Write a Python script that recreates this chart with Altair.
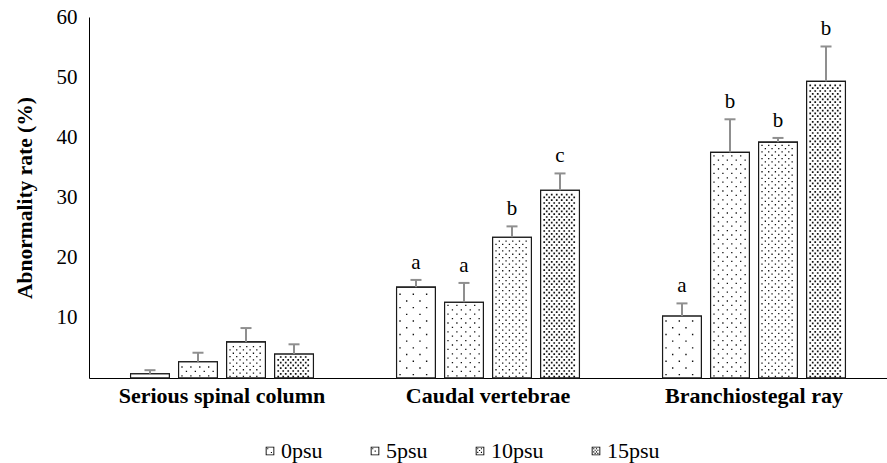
import altair as alt
import pandas as pd

# ---- data -------------------------------------------------------------
groups = ["Serious spinal column", "Caudal vertebrae", "Branchiostegal ray"]
salinity = ["0psu", "5psu", "10psu", "15psu"]

rate_serious = [0.7, 2.7, 6.0, 4.0]
rate_caudal = [15.1, 12.6, 23.4, 31.2]
rate_branch = [10.3, 37.5, 39.2, 49.3]

sd_serious = [0.6, 1.5, 2.3, 1.6]
sd_caudal = [1.2, 3.2, 1.8, 2.8]
sd_branch = [2.1, 5.5, 0.7, 5.8]

letters_serious = ["", "", "", ""]
letters_caudal = ["a", "a", "b", "c"]
letters_branch = ["a", "b", "b", "b"]

rows = []
for g, rates, sds, lets in zip(
    groups,
    [rate_serious, rate_caudal, rate_branch],
    [sd_serious, sd_caudal, sd_branch],
    [letters_serious, letters_caudal, letters_branch],
):
    for s, r, e, l in zip(salinity, rates, sds, lets):
        rows.append({"group": g, "salinity": s, "rate": r, "sd": e, "letter": l})
df = pd.DataFrame(rows)

# ---- layout / style ---------------------------------------------------
PLOT_W, PLOT_H = 798, 361
Y_MAX = 60
PX_PER_UNIT = PLOT_H / Y_MAX
GROUP_PAD_IN, GROUP_PAD_OUT = 0.278, 0.139
BAR_PAD_IN, BAR_PAD_OUT = 0.19, 0.095
group_band = PLOT_W / 3 * (1 - GROUP_PAD_IN)
bar_step = group_band / (4 - BAR_PAD_IN + 2 * BAR_PAD_OUT)
BAR_W = bar_step * (1 - BAR_PAD_IN)

SERIF = "Liberation Serif"
ERR_COLOR = "#8f8f8f"
INK = "#1a1a1a"

# dot-fill texture for each salinity: spacing along a row (px), row pitch (px), dot size (px)
PATTERNS = {
    "0psu": dict(cx=13.3, ry=6.7, dot=1.4),
    "5psu": dict(cx=8.9, ry=4.4, dot=1.3),
    "10psu": dict(cx=6.7, ry=3.3, dot=1.3),
    "15psu": dict(cx=5.0, ry=2.8, dot=1.7),
}


def dot_row(cx, dot, shift, half):
    """SVG path (pixel units) of one row of square dots, centred on 0."""
    parts = []
    x = -half + shift
    while x + dot <= half + 1e-6:
        parts.append(f"M{x:.2f},{-dot / 2:.2f}h{dot}v{dot}h{-dot}Z")
        x += cx
    return " ".join(parts)


half_w = BAR_W / 2 - 2.2
shape_keys, shape_paths = [], []
for s in salinity:
    p = PATTERNS[s]
    for parity in (0, 1):
        shape_keys.append(f"{s}|{parity}")
        shape_paths.append(dot_row(p["cx"], p["dot"], 0.6 + parity * p["cx"] / 2, half_w))


def legend_symbol(p):
    """Small outlined square holding a sample of the texture (pixel units)."""
    o, i = 4.3, 3.4
    path = f"M{-o},{-o}H{o}V{o}H{-o}Z M{-i},{-i}V{i}H{i}V{-i}Z"
    cx, ry, d = p["cx"] * 0.55, p["ry"] * 0.55, 1.1
    y, k = -i + 0.6, 0
    while y + d <= i - 0.4:
        x = -i + 0.6 + (k % 2) * cx / 2
        while x + d <= i - 0.4:
            path += f" M{x:.2f},{y:.2f}h{d}v{d}h{-d}Z"
            x += cx
        y += ry
        k += 1
    return path


legend_paths = [legend_symbol(PATTERNS[s]) for s in salinity]

step_units = [PATTERNS[s]["ry"] / PX_PER_UNIT for s in salinity]
sal_js = "[" + ",".join(f"'{s}'" for s in salinity) + "]"
step_js = "[" + ",".join(f"{v:.4f}" for v in step_units) + "]"

# ---- shared encodings -------------------------------------------------
x_enc = alt.X(
    "group:N",
    sort=groups,
    scale=alt.Scale(paddingInner=GROUP_PAD_IN, paddingOuter=GROUP_PAD_OUT),
    axis=alt.Axis(
        title=None, labelAngle=0, ticks=False, domainColor="black", domainWidth=1,
        labelFont=SERIF, labelFontWeight="bold", labelFontSize=22, labelColor="black",
        labelPadding=7, labelLimit=400,
    ),
)
xo_enc = alt.XOffset(
    "salinity:N",
    sort=salinity,
    scale=alt.Scale(paddingInner=BAR_PAD_IN, paddingOuter=BAR_PAD_OUT),
)
y_scale = alt.Scale(domain=[0, Y_MAX], nice=False, zero=True)
y_axis = alt.Axis(
    title="Abnormality rate (%)", values=[10, 20, 30, 40, 50, 60], ticks=False, grid=False,
    domainColor="black", domainWidth=1, labelFont=SERIF, labelFontSize=21,
    labelColor="black", labelPadding=12, titleFont=SERIF, titleFontSize=21.5,
    titleFontWeight="bold", titleColor="black", titlePadding=20,
)


def y_enc(field):
    return alt.Y(field, type="quantitative", scale=y_scale, axis=y_axis)


base = alt.Chart(df)

bars = base.mark_bar(fill="white", stroke=INK, strokeWidth=1.1).encode(
    x=x_enc, xOffset=xo_enc, y=y_enc("rate")
)

texture = (
    base.transform_calculate(step=f"{step_js}[indexof({sal_js}, datum.salinity)]")
    .transform_calculate(k="sequence(0, floor(max(0, datum.rate - 0.35) / datum.step + 0.5))")
    .transform_flatten(["k"])
    .transform_calculate(
        dot_y="(datum.k + 0.5) * datum.step",
        pkey="datum.salinity + '|' + (datum.k % 2)",
    )
    .mark_point(filled=True, color="#111111", opacity=1, size=4, strokeWidth=0)
    .encode(
        x=x_enc,
        xOffset=xo_enc,
        y=y_enc("dot_y"),
        shape=alt.Shape("pkey:N", scale=alt.Scale(domain=shape_keys, range=shape_paths), legend=None),
    )
)

outline = base.mark_bar(fill=None, fillOpacity=0, stroke=INK, strokeWidth=1.1).encode(
    x=x_enc, xOffset=xo_enc, y=y_enc("rate")
)

with_top = base.transform_calculate(top="datum.rate + datum.sd")

err_line = with_top.mark_rule(color=ERR_COLOR, strokeWidth=2).encode(
    x=x_enc, xOffset=xo_enc, y=y_enc("rate"), y2="top:Q"
)
err_cap = with_top.mark_tick(color=ERR_COLOR, thickness=2, size=11, opacity=1).encode(
    x=x_enc, xOffset=xo_enc, y=y_enc("top")
)

letters = (
    with_top.transform_filter("datum.letter != ''")
    .mark_text(font=SERIF, fontSize=21, color="black", dy=-11, baseline="alphabetic")
    .encode(x=x_enc, xOffset=xo_enc, y=y_enc("top"), text="letter:N")
)

# legend carrier: no marks drawn, only the textured legend entries
legend_layer = (
    base.transform_filter("datum.rate < 0")
    .mark_point(filled=True, color="black", opacity=1)
    .encode(
        x=x_enc,
        xOffset=xo_enc,
        y=y_enc("rate"),
        shape=alt.Shape(
            "salinity:N",
            sort=salinity,
            scale=alt.Scale(domain=salinity, range=legend_paths),
            legend=alt.Legend(
                title=None, orient="none", direction="horizontal", columns=4,
                legendX=170, legendY=423, symbolSize=4, symbolFillColor="black",
                symbolStrokeWidth=0, symbolOpacity=1, labelOffset=0,
                labelFont=SERIF, labelFontSize=22, labelColor="black",
                columnPadding=41, padding=0,
            ),
        ),
    )
)

chart = (
    alt.layer(bars, texture, outline, err_line, err_cap, letters, legend_layer)
    .resolve_scale(shape="independent")
    .properties(
        width=PLOT_W,
        height=PLOT_H,
        autosize=alt.AutoSizeParams(type="none"),
        padding={"left": 89, "top": 17, "right": 0, "bottom": 85},
        background="white",
    )
    .configure_view(stroke=None)
)

chart.save("out.html", embed_options={"renderer": "svg", "actions": False})
